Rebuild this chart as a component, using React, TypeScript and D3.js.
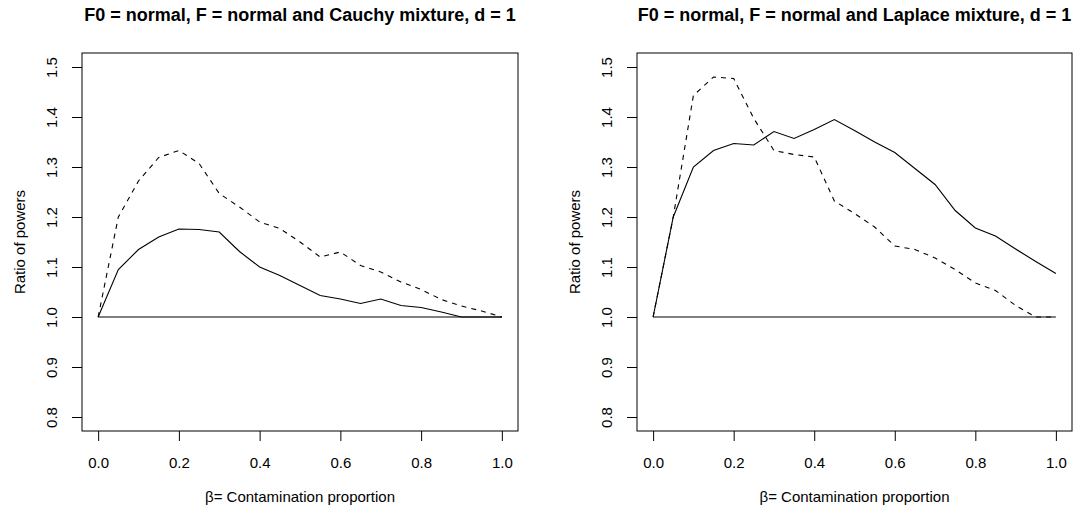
import React, { useEffect, useRef } from 'react';
import * as d3 from 'd3';

// contamination proportion (x)
const beta = [0, 0.05, 0.1, 0.15, 0.2, 0.25, 0.3, 0.35, 0.4, 0.45, 0.5, 0.55, 0.6, 0.65, 0.7, 0.75, 0.8, 0.85, 0.9, 0.95, 1.0];

// left panel: normal and Cauchy mixture
const cauchySolid = [1.0, 1.095, 1.135, 1.16, 1.176, 1.175, 1.17, 1.131, 1.1, 1.083, 1.063, 1.043, 1.036, 1.027, 1.036, 1.023, 1.019, 1.01, 1.0, 1.0, 1.0];
const cauchyDashed = [1.0, 1.2, 1.272, 1.319, 1.333, 1.307, 1.247, 1.22, 1.19, 1.177, 1.15, 1.12, 1.13, 1.103, 1.09, 1.07, 1.055, 1.035, 1.022, 1.012, 1.0];

// right panel: normal and Laplace mixture
const laplaceSolid = [1.0, 1.2, 1.3, 1.333, 1.347, 1.344, 1.371, 1.357, 1.375, 1.395, 1.373, 1.35, 1.329, 1.297, 1.265, 1.213, 1.178, 1.162, 1.136, 1.111, 1.087];
const laplaceDashed = [1.0, 1.2, 1.443, 1.48, 1.477, 1.397, 1.333, 1.325, 1.32, 1.232, 1.207, 1.18, 1.142, 1.135, 1.118, 1.095, 1.068, 1.053, 1.023, 1.0, 1.0];

const xTicks = [0, 0.2, 0.4, 0.6, 0.8, 1.0];
const yTicks = [0.8, 0.9, 1.0, 1.1, 1.2, 1.3, 1.4, 1.5];

const titles = [
    'F0 = normal, F = normal and Cauchy mixture, d = 1',
    'F0 = normal, F = normal and Laplace mixture, d = 1',
];
const xLabel = 'β= Contamination proportion';
const yLabel = 'Ratio of powers';

const W = 1082;
const H = 511;

const App = () => {
    const svgRef = useRef<SVGSVGElement>(null);

    useEffect(() => {
        const svg = d3.select(svgRef.current);
        svg.selectAll('*').remove();

        const panels = [
            { left: 82, right: 518, solid: cauchySolid, dashed: cauchyDashed, title: titles[0] },
            { left: 637, right: 1072, solid: laplaceSolid, dashed: laplaceDashed, title: titles[1] },
        ];
        const top = 53;
        const bottom = 431;

        panels.forEach(p => {
            // R style: 4% padding on each side
            const x = d3.scaleLinear().domain([-0.04, 1.04]).range([p.left, p.right]);
            const y = d3.scaleLinear().domain([0.772, 1.528]).range([bottom, top]);
            const g = svg.append('g');

            // title
            g.append('text')
                .attr('x', (p.left + p.right) / 2)
                .attr('y', 21)
                .attr('text-anchor', 'middle')
                .attr('font-size', 18)
                .attr('font-weight', 'bold')
                .text(p.title);

            // x axis
            const xAxis = d3.axisBottom(x).tickValues(xTicks).tickSize(10).tickPadding(0).tickFormat(d3.format('.1f'));
            const gx = g.append('g').attr('transform', `translate(0,${bottom})`).call(xAxis);
            gx.select('.domain').remove();
            gx.selectAll('text').attr('y', 37).attr('dy', 0).attr('font-size', 15).attr('font-family', null);

            // y axis
            const yAxis = d3.axisLeft(y).tickValues(yTicks).tickSize(10).tickFormat(d3.format('.1f'));
            const gy = g.append('g').attr('transform', `translate(${p.left},0)`).call(yAxis);
            gy.select('.domain').remove();
            gy.selectAll('text')
                .attr('x', 0)
                .attr('y', -25)
                .attr('dy', 0)
                .attr('transform', 'rotate(-90)')
                .attr('text-anchor', 'middle')
                .attr('font-size', 15)
                .attr('font-family', null);

            // box
            g.append('rect')
                .attr('x', p.left)
                .attr('y', top)
                .attr('width', p.right - p.left)
                .attr('height', bottom - top)
                .attr('fill', 'none')
                .attr('stroke', 'black');

            // axis labels
            g.append('text')
                .attr('x', (p.left + p.right) / 2)
                .attr('y', 502)
                .attr('text-anchor', 'middle')
                .attr('font-size', 15)
                .text(xLabel);
            g.append('text')
                .attr('transform', `translate(${p.left - 57},${(top + bottom) / 2}) rotate(-90)`)
                .attr('text-anchor', 'middle')
                .attr('font-size', 15)
                .text(yLabel);

            // reference line at 1
            g.append('line')
                .attr('x1', x(0))
                .attr('x2', x(1))
                .attr('y1', y(1))
                .attr('y2', y(1))
                .attr('stroke', 'black');

            const line = d3
                .line<number>()
                .x((d, i) => x(beta[i]))
                .y(d => y(d));

            g.append('path')
                .datum(p.solid)
                .attr('d', line)
                .attr('fill', 'none')
                .attr('stroke', 'black')
                .attr('stroke-width', 1.1);

            g.append('path')
                .datum(p.dashed)
                .attr('d', line)
                .attr('fill', 'none')
                .attr('stroke', 'black')
                .attr('stroke-width', 1.1)
                .attr('stroke-dasharray', '5,5');
        });
    }, []);

    return (
        <svg
            ref={svgRef}
            width={W}
            height={H}
            style={{ position: 'absolute', left: 0, top: 0, background: 'white' }}
            fontFamily="'Liberation Sans', Arial, sans-serif"
        />
    );
};

export default App;
